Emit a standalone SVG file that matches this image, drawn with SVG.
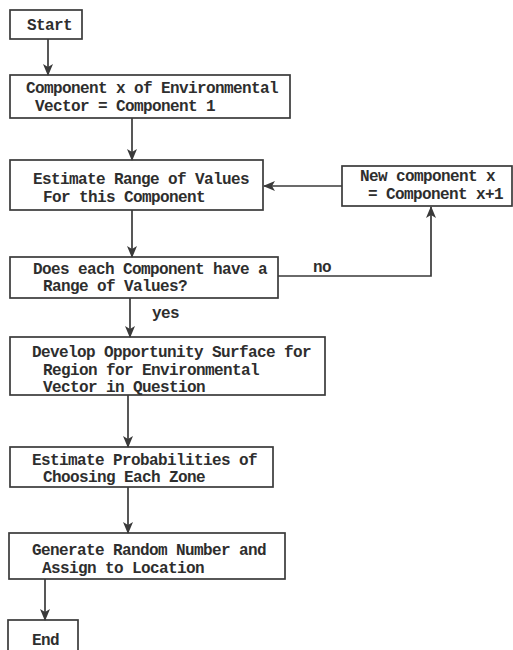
<svg xmlns="http://www.w3.org/2000/svg" width="513" height="650" viewBox="0 0 513 650">
<style>
.box{fill:none;stroke:#3a3a3a;stroke-width:1.7}
.t{font-family:"Liberation Mono","Courier New",monospace;font-size:16px;letter-spacing:-0.6px;font-weight:bold;fill:#2e2e2e}
.c{fill:none;stroke:#3a3a3a;stroke-width:1.7}
</style>
<defs>
<marker id="ah" markerWidth="12" markerHeight="12" refX="11" refY="6" orient="auto" markerUnits="userSpaceOnUse">
<path d="M0,1 L12,6 L0,11 L3,6 z" fill="#3a3a3a"/>
</marker>
</defs>
<rect width="513" height="650" fill="#ffffff"/>
<g id="connectors">
<line class="c" x1="48" y1="39" x2="48" y2="75" marker-end="url(#ah)"/>
<line class="c" x1="132" y1="118" x2="132" y2="160" marker-end="url(#ah)"/>
<line class="c" x1="342" y1="186" x2="264" y2="186" marker-end="url(#ah)"/>
<line class="c" x1="132" y1="210" x2="132" y2="257" marker-end="url(#ah)"/>
<polyline class="c" points="278,276 431,276 431,207" marker-end="url(#ah)"/>
<text class="t" x="313" y="272">no</text>
<line class="c" x1="130" y1="298" x2="130" y2="337" marker-end="url(#ah)"/>
<text class="t" x="152" y="318">yes</text>
<line class="c" x1="128" y1="395" x2="128" y2="447" marker-end="url(#ah)"/>
<line class="c" x1="128" y1="487" x2="128" y2="533" marker-end="url(#ah)"/>
<line class="c" x1="45" y1="579" x2="45" y2="620" marker-end="url(#ah)"/>
</g>
<g id="start">
<rect class="box" x="10" y="10" width="72" height="29"/>
<text class="t" x="27" y="30">Start</text>
</g>
<g id="component">
<rect class="box" x="10" y="75" width="280" height="43"/>
<text class="t" x="26" y="93">Component x of Environmental</text>
<text class="t" x="35" y="111">Vector = Component 1</text>
</g>
<g id="estimate-range">
<rect class="box" x="10" y="160" width="253" height="50"/>
<text class="t" x="33" y="184">Estimate Range of Values</text>
<text class="t" x="43" y="202">For this Component</text>
</g>
<g id="new-component">
<rect class="box" x="342" y="166" width="170" height="40"/>
<text class="t" x="360" y="181">New component x</text>
<text class="t" x="368" y="199">= Component x+1</text>
</g>
<g id="does-each">
<rect class="box" x="10" y="257" width="268" height="41"/>
<text class="t" x="33" y="274">Does each Component have a</text>
<text class="t" x="43" y="291">Range of Values?</text>
</g>
<g id="develop">
<rect class="box" x="10" y="337" width="315" height="58"/>
<text class="t" x="32" y="357">Develop Opportunity Surface for</text>
<text class="t" x="43" y="375">Region for Environmental</text>
<text class="t" x="43" y="392">Vector in Question</text>
</g>
<g id="estimate-prob">
<rect class="box" x="10" y="447" width="263" height="40"/>
<text class="t" x="32" y="465">Estimate Probabilities of</text>
<text class="t" x="43" y="482">Choosing Each Zone</text>
</g>
<g id="generate">
<rect class="box" x="9" y="533" width="276" height="46"/>
<text class="t" x="32" y="555">Generate Random Number and</text>
<text class="t" x="42" y="573">Assign to Location</text>
</g>
<g id="end">
<rect class="box" x="8" y="620" width="70" height="40"/>
<text class="t" x="32" y="645">End</text>
</g>
</svg>
